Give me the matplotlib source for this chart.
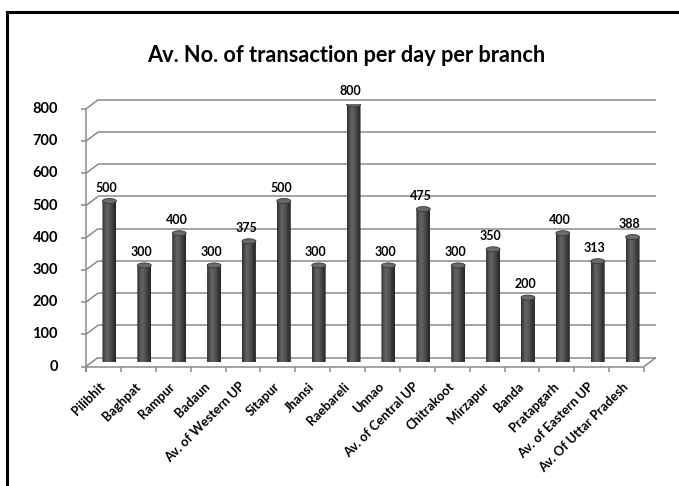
import numpy as np
import matplotlib
matplotlib.use("Agg")
import matplotlib.pyplot as plt
from matplotlib.patches import Rectangle, Ellipse, PathPatch
from matplotlib.path import Path
from matplotlib.colors import LinearSegmentedColormap

plt.rcParams['font.family'] = ['Lato', 'DejaVu Sans']

# ---- data ----
branches = ["Pilibhit", "Baghpat", "Rampur", "Badaun", "Av. of Western UP",
            "Sitapur", "Jhansi", "Raebareli", "Unnao", "Av. of Central UP",
            "Chitrakoot", "Mirzapur", "Banda", "Pratapgarh",
            "Av. of Eastern UP", "Av. Of Uttar Pradesh"]
transactions = [500, 300, 400, 300, 375, 500, 300, 800, 300, 475,
                300, 350, 200, 400, 313, 388]
y_ticks = [0, 100, 200, 300, 400, 500, 600, 700, 800]
title = "Av. No. of transaction per day per branch"

W, H, DPI = 679, 486, 100
fig = plt.figure(figsize=(W / DPI, H / DPI), dpi=DPI)

# axes = mid-depth plane of the 3-D box (pixel layout)
left_px, right_px = 92, 650
y0_px, ytop_px = 362, 104.4
ax = fig.add_axes([left_px / W, (H - y0_px) / H,
                   (right_px - left_px) / W, (y0_px - ytop_px) / H])
n = len(branches)
ax.set_xlim(-0.5, n - 0.5)
ax.set_ylim(0, 800)
ax.axis("off")

# pixel -> data conversions
px_x = (right_px - left_px) / n          # px per category
px_y = (y0_px - ytop_px) / 800           # px per unit
dx = 6 / px_x                            # half depth, horizontal
dy = 4.5 / px_y                          # half depth, vertical

grid_kw = dict(color="#8a8a8a", lw=1.1, clip_on=False, solid_capstyle="butt")

# back wall gridlines and left wall diagonals
for v in y_ticks:
    ax.plot([-0.5 + dx, n - 0.5 + dx], [v + dy, v + dy], zorder=1, **grid_kw)
    ax.plot([-0.5 - dx, -0.5 + dx], [v - dy, v + dy], zorder=1, **grid_kw)
    # front tick marks
    ax.plot([-0.5 - dx - 5 / px_x, -0.5 - dx], [v - dy, v - dy], zorder=1, **grid_kw)
    ax.text(-0.5 - dx - 28 / px_x, v - dy, str(v), ha="right", va="center",
            fontsize=10.5, fontweight="bold", color="black")

# front vertical axis
ax.plot([-0.5 - dx, -0.5 - dx], [-dy - 5 / px_y, 800 - dy], zorder=1, **grid_kw)
# floor front edge and right diagonal
ax.plot([-0.5 - dx, n - 0.5 - dx], [-dy, -dy], zorder=1, **grid_kw)
ax.plot([n - 0.5 - dx, n - 0.5 + dx], [-dy, dy], zorder=1, **grid_kw)
# category ticks
for i in range(n + 1):
    ax.plot([i - 0.5 - dx] * 2, [-dy, -dy - 5 / px_y], zorder=1, **grid_kw)

# cylinder bars
bw = 0.40
cap_h = 5 / px_y
cyl = LinearSegmentedColormap.from_list(
    "cyl", ["#2e2e2e", "#4c4c4c", "#646464", "#5a5a5a", "#4a4a4a", "#353535", "#252525"])
grad = np.linspace(0, 1, 64).reshape(1, -1)
t = np.linspace(np.pi, 2 * np.pi, 30)
for i, v in enumerate(transactions):
    xl, xr = i - bw / 2, i + bw / 2
    # body outline: straight sides, rounded bottom
    arc_x = i + bw / 2 * np.cos(t)
    arc_y = cap_h / 2 * np.sin(t)
    verts = [(xl, v)] + list(zip(arc_x, arc_y)) + [(xr, v), (xl, v)]
    codes = [Path.MOVETO] + [Path.LINETO] * (len(verts) - 2) + [Path.CLOSEPOLY]
    body = PathPatch(Path(verts, codes), facecolor="none", edgecolor="none", zorder=3)
    ax.add_patch(body)
    im = ax.imshow(grad, cmap=cyl, aspect="auto", extent=(xl, xr, -cap_h, v),
                   zorder=3, interpolation="bilinear")
    im.set_clip_path(body)
    # top cap
    ax.add_patch(Ellipse((i, v), bw, cap_h, facecolor="#6a6a6a",
                         edgecolor="#3a3a3a", lw=0.6, zorder=4))
    # value label
    ax.annotate(str(v), (i, v), xytext=(-2, 9.5), textcoords="offset points",
                ha="center", va="center", fontsize=9, fontweight="bold",
                color="black", annotation_clip=False)
    # category label
    ax.annotate(branches[i], (i - dx, -dy), xytext=(3, -10),
                textcoords="offset points", ha="right", va="top",
                rotation=45, fontsize=9.3, fontweight="bold", color="black",
                annotation_clip=False)

ax.set_xlim(-0.5, n - 0.5)
ax.set_ylim(0, 800)

fig.text(346 / W, 1 - 55 / H, title, ha="center", va="center",
         fontsize=15.7, fontweight="bold", color="black")

# chart frame
fig.add_artist(Rectangle((7 / W, -0.2), 1.3, (H - 12) / H + 0.2,
                         transform=fig.transFigure, fill=False,
                         edgecolor="black", lw=2.2))

fig.savefig("out.png", dpi=DPI, facecolor="white")
